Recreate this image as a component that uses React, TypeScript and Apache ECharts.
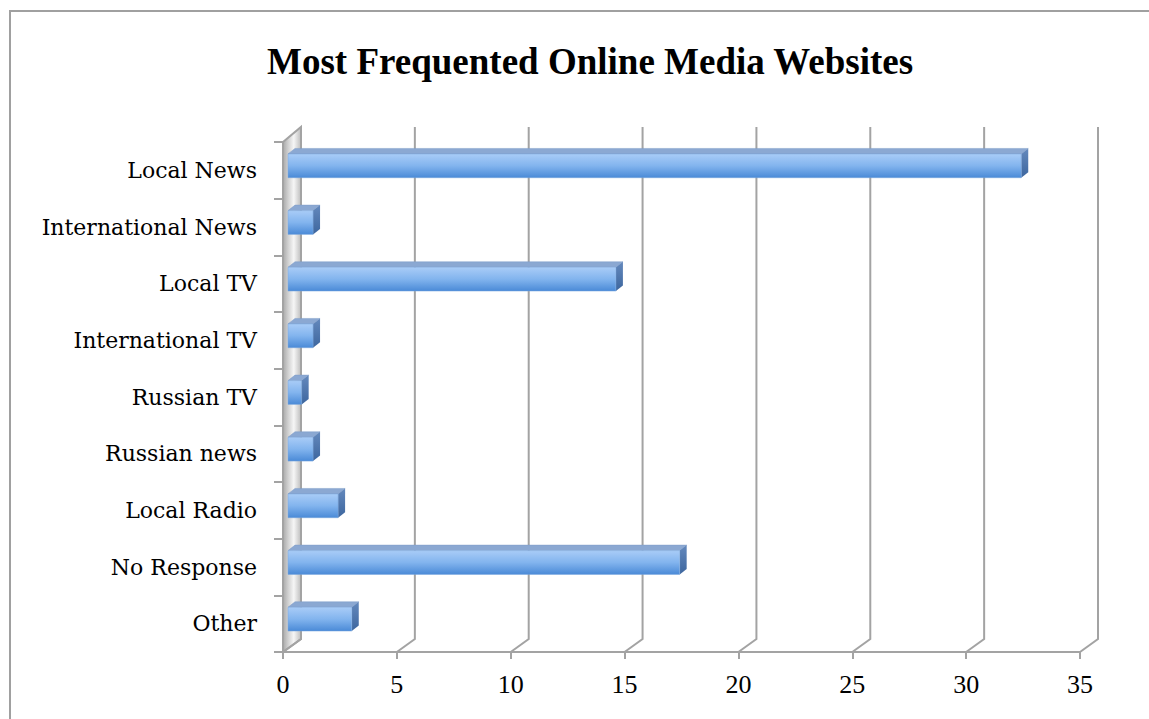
import React, { useEffect, useRef } from "react";
import * as echarts from "echarts";

const TITLE = "Most Frequented Online Media Websites";
const categories = [
  "Local News",
  "International News",
  "Local TV",
  "International TV",
  "Russian TV",
  "Russian news",
  "Local Radio",
  "No Response",
  "Other",
];
const values = [32.2, 1.1, 14.4, 1.1, 0.6, 1.1, 2.2, 17.2, 2.8];
const xTicks = [0, 5, 10, 15, 20, 25, 30, 35];

const GRID_COLOR = "#a3a3a3";
// 3D depth offsets of the back wall relative to the front plane
const DX = 18;
const DY_TOP = -15;
const DY_BOTTOM = -13;

export default function App() {
  const ref = useRef<HTMLDivElement>(null);

  useEffect(() => {
    if (!ref.current) return;
    const chart = echarts.init(ref.current, null, { renderer: "svg" });

    const frameSeries = {
      type: "custom",
      silent: true,
      z: 1,
      data: [[0, 0]],
      renderItem: (params: any, api: any) => {
        const cs = params.coordSys;
        const left = cs.x;
        const top = cs.y;
        const bottom = cs.y + cs.height;
        const children: any[] = [];
        children.push({
          type: "polygon",
          shape: {
            points: [
              [left, top],
              [left + DX, top + DY_TOP],
              [left + DX, bottom + DY_BOTTOM],
              [left, bottom],
            ],
          },
          style: {
            fill: {
              type: "linear",
              x: 0,
              y: 0,
              x2: 1,
              y2: 0,
              colorStops: [
                { offset: 0, color: "#a9a9a9" },
                { offset: 0.3, color: "#d2d2d2" },
                { offset: 0.6, color: "#f6f6f6" },
                { offset: 1, color: "#bdbdbd" },
              ],
            },
            stroke: GRID_COLOR,
            lineWidth: 2,
          },
        });
        xTicks.forEach((v) => {
          const x = api.coord([v, 0])[0];
          children.push({
            type: "polyline",
            shape: {
              points: [
                [x, bottom],
                [x + DX, bottom + DY_BOTTOM],
                [x + DX, top + DY_TOP],
              ],
            },
            style: { stroke: GRID_COLOR, lineWidth: 2, fill: null },
          });
        });
        return { type: "group", children };
      },
    };

    const barSeries = {
      type: "custom",
      z: 2,
      encode: { x: 0, y: 1 },
      data: values.map((v, i) => [v, i]),
      renderItem: (params: any, api: any) => {
        const v = api.value(0);
        const i = api.value(1);
        const p0 = api.coord([0, i]);
        const p1 = api.coord([v, i]);
        const band = api.size([0, 1])[1];
        const h = band * 0.42;
        const ox = 5;
        const oy = -4.5;
        const dx = 7;
        const dy = -5.5;
        const x0 = p0[0] + ox;
        const x1 = p1[0] + ox;
        const yt = p0[1] + oy - h / 2;
        const yb = yt + h;
        return {
          type: "group",
          children: [
            {
              type: "polygon",
              shape: {
                points: [
                  [x0, yt],
                  [x1, yt],
                  [x1 + dx, yt + dy],
                  [x0 + dx, yt + dy],
                ],
              },
              style: { fill: "#8ba8d2", stroke: "#7f9dc8", lineWidth: 0.5 },
            },
            {
              type: "polygon",
              shape: {
                points: [
                  [x1, yt],
                  [x1 + dx, yt + dy],
                  [x1 + dx, yb + dy],
                  [x1, yb],
                ],
              },
              style: {
                fill: {
                  type: "linear",
                  x: 0,
                  y: 0,
                  x2: 0,
                  y2: 1,
                  colorStops: [
                    { offset: 0, color: "#6489bd" },
                    { offset: 1, color: "#3d669e" },
                  ],
                },
              },
            },
            {
              type: "rect",
              shape: { x: x0, y: yt, width: Math.max(x1 - x0, 0), height: h },
              style: {
                fill: {
                  type: "linear",
                  x: 0,
                  y: 0,
                  x2: 0,
                  y2: 1,
                  colorStops: [
                    { offset: 0, color: "#a9ccf7" },
                    { offset: 0.5, color: "#82b4ee" },
                    { offset: 1, color: "#4a8ad7" },
                  ],
                },
                stroke: "#7aa6dc",
                lineWidth: 0.5,
              },
            },
          ],
        };
      },
    };

    const option: any = {
      animation: false,
      backgroundColor: "#ffffff",
      title: {
        text: TITLE,
        left: 262,
        top: 38,
        textStyle: {
          fontFamily: "Liberation Serif",
          fontWeight: "bold",
          fontSize: 37,
          color: "#000000",
        },
      },
      graphic: [
        {
          type: "rect",
          z: -10,
          silent: true,
          shape: { x: 10, y: 11, width: 1300, height: 900 },
          style: { fill: "none", stroke: "#a0a0a0", lineWidth: 2 },
        },
      ],
      grid: { left: 283, top: 142, width: 797, height: 510 },
      xAxis: {
        type: "value",
        min: 0,
        max: 35,
        interval: 5,
        axisLine: { show: true, lineStyle: { color: GRID_COLOR, width: 2 } },
        axisTick: { show: true, length: 7, lineStyle: { color: GRID_COLOR, width: 2 } },
        splitLine: { show: false },
        axisLabel: {
          fontFamily: "Liberation Serif",
          fontSize: 26,
          color: "#000000",
          margin: 19,
        },
      },
      yAxis: {
        type: "category",
        data: categories,
        inverse: true,
        axisLine: { show: false },
        axisTick: { show: true, length: 9, lineStyle: { color: GRID_COLOR, width: 2 } },
        splitLine: { show: false },
        axisLabel: {
          fontFamily: "DejaVu Serif",
          fontSize: 22,
          color: "#000000",
          margin: 26,
          padding: [6, 0, 0, 0],
        },
      },
      series: [frameSeries, barSeries],
    };

    chart.setOption(option);
    return () => {
      chart.dispose();
    };
  }, []);

  return (
    <div
      ref={ref}
      style={{
        position: "fixed",
        left: 0,
        top: 0,
        width: 1149,
        height: 719,
        background: "#ffffff",
      }}
    />
  );
}
